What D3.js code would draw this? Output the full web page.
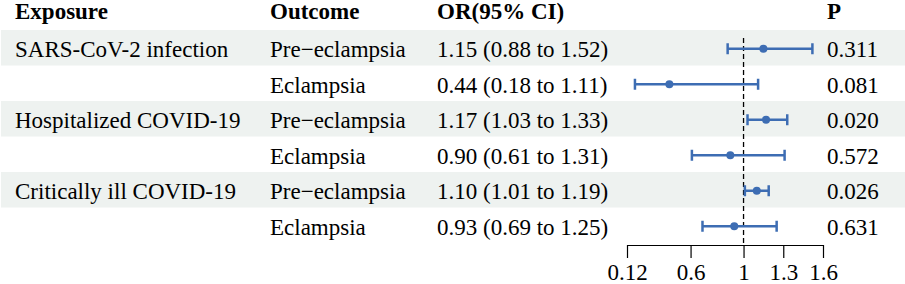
<!DOCTYPE html>
<html>
<head>
<meta charset="utf-8">
<script src="https://cdn.jsdelivr.net/npm/d3@7"></script>
<style>
  body { margin: 0; background: #fff; }
  svg text { font-family: "Liberation Serif", "Times New Roman", serif; fill: #000; }
</style>
</head>
<body>
<div id="chart"></div>
<script>
var exposures = ["SARS-CoV-2 infection", "", "Hospitalized COVID-19", "", "Critically ill COVID-19", ""];
var outcomes = ["Pre\u2212eclampsia", "Eclampsia", "Pre\u2212eclampsia", "Eclampsia", "Pre\u2212eclampsia", "Eclampsia"];
var orText = ["1.15 (0.88 to 1.52)", "0.44 (0.18 to 1.11)", "1.17 (1.03 to 1.33)", "0.90 (0.61 to 1.31)", "1.10 (1.01 to 1.19)", "0.93 (0.69 to 1.25)"];
var orVals = [1.15, 0.44, 1.17, 0.90, 1.10, 0.93];
var lower = [0.88, 0.18, 1.03, 0.61, 1.01, 0.69];
var upper = [1.52, 1.11, 1.33, 1.31, 1.19, 1.25];
var pvals = ["0.311", "0.081", "0.020", "0.572", "0.026", "0.631"];
var tickVals = [0.12, 0.6, 1, 1.3, 1.6];
var tickLabels = ["0.12", "0.6", "1", "1.3", "1.6"];

function init(){
    var w = 905, h = 284;
    var blue = "#3d6db3";

    var svg = d3.select("#chart").append("svg")
        .attr("width", w)
        .attr("height", h);

    var rows = d3.range(orVals.length);

    var y = d3.scaleBand()
        .domain(rows)
        .range([30, 30 + 35.5 * rows.length])
        .padding(0);

    var x = d3.scaleLinear()
        .domain([0.12, 1.6])
        .range([627, 823]);

    // shaded bands on every other row
    svg.selectAll("rect.band")
        .data(rows.filter(function(i){ return i % 2 === 0; }))
        .enter().append("rect")
        .attr("class", "band")
        .attr("x", 1)
        .attr("y", function(i){ return y(i); })
        .attr("width", w - 1)
        .attr("height", 35.5)
        .attr("fill", "#eef2f0");

    // headers
    var headers = [["Exposure", 15], ["Outcome", 270], ["OR(95% CI)", 437], ["P", 827]];
    svg.selectAll("text.head")
        .data(headers)
        .enter().append("text")
        .attr("class", "head")
        .attr("x", function(d){ return d[1]; })
        .attr("y", 18.5)
        .attr("font-size", 23)
        .attr("font-weight", "bold")
        .text(function(d){ return d[0]; });

    // table columns
    var cols = [[exposures, 15], [outcomes, 270], [orText, 437], [pvals, 827]];
    cols.forEach(function(c){
        svg.append("g").selectAll("text")
            .data(c[0])
            .enter().append("text")
            .attr("x", c[1])
            .attr("y", function(d, i){ return y(i) + y.bandwidth() / 2 + 9.5; })
            .attr("font-size", 23)
            .text(function(d){ return d; });
    });

    // reference line at 1
    svg.append("line")
        .attr("x1", x(1)).attr("x2", x(1))
        .attr("y1", 38).attr("y2", 245)
        .attr("stroke", "#000")
        .attr("stroke-width", 1.3)
        .attr("stroke-dasharray", "5,3");

    // error bars
    var g = svg.append("g");
    rows.forEach(function(i){
        var cy = y(i) + y.bandwidth() / 2 + 1;
        g.append("line")
            .attr("x1", x(lower[i])).attr("x2", x(upper[i]))
            .attr("y1", cy).attr("y2", cy)
            .attr("stroke", blue).attr("stroke-width", 2.5);
        [lower[i], upper[i]].forEach(function(v){
            g.append("line")
                .attr("x1", x(v)).attr("x2", x(v))
                .attr("y1", cy - 5.5).attr("y2", cy + 5.5)
                .attr("stroke", blue).attr("stroke-width", 2.5);
        });
        g.append("circle")
            .attr("cx", x(orVals[i]))
            .attr("cy", cy)
            .attr("r", 4)
            .attr("fill", blue);
    });

    // x axis
    var axis = d3.axisBottom(x)
        .tickValues(tickVals)
        .tickSize(13)
        .tickSizeOuter(0)
        .tickPadding(6)
        .tickFormat(function(d, i){ return tickLabels[i]; });

    var ax = svg.append("g")
        .attr("transform", "translate(0,245)")
        .call(axis);
    ax.select(".domain").attr("stroke", "#000").attr("stroke-width", 1.2);
    ax.selectAll(".tick line").attr("stroke", "#000").attr("stroke-width", 1.2);
    ax.selectAll(".tick text")
        .attr("font-size", 23)
        .attr("font-family", "Liberation Serif, Times New Roman, serif")
        .attr("fill", "#000");
}
window.onload = init;
</script>
</body>
</html>
